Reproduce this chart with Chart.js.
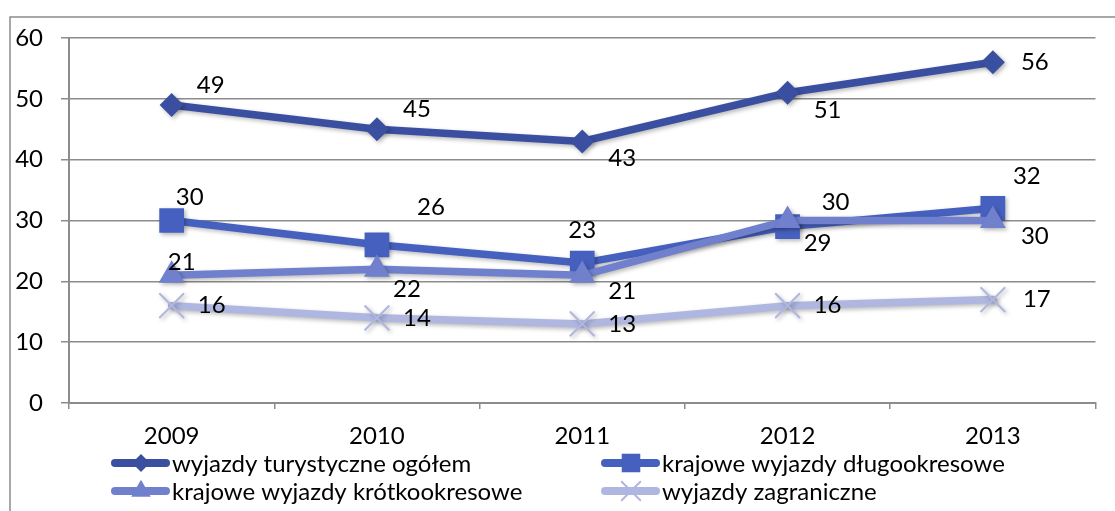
<!DOCTYPE html>
<html>
<head>
<meta charset="utf-8">
<script src="https://cdn.jsdelivr.net/npm/chart.js@4/dist/chart.umd.min.js"></script>
<style>
html,body{margin:0;padding:0;background:#fff;}
#wrap{width:1115px;height:511px;position:relative;}
</style>
</head>
<body>
<div id="wrap"><canvas id="c" width="1115" height="511"></canvas></div>
<script>
const categories = ['2009', '2010', '2011', '2012', '2013'];
const seriesNames = ['wyjazdy turystyczne ogółem', 'krajowe wyjazdy długookresowe', 'krajowe wyjazdy krótkookresowe', 'wyjazdy zagraniczne'];
const ogolem = [49, 45, 43, 51, 56];
const dlugookresowe = [30, 26, 23, 29, 32];
const krotkookresowe = [21, 22, 21, 30, 30];
const zagraniczne = [16, 14, 13, 16, 17];
const yTicks = [0, 10, 20, 30, 40, 50, 60];

const FONT = 'Lato, "Liberation Sans", sans-serif';
const FSIZE = 24;
const colors = ['#3B4FA0', '#4660BF', '#7080CC', '#AFB7E1'];
const styles = ['rectRot', 'rect', 'triangle', 'crossRot'];
const radii = [12, 17.5, 15, 17.5];

// label offsets (style: where each value label sits relative to its point)
const labelOffsets = [
  [[39,-20],[40,-20],[40,17],[40,18],[42,0]],
  [[18,-23],[54,-38],[0,-33],[30,17],[34,-32]],
  [[10,-13],[30,20],[40,16],[48,-18],[42,16]],
  [[40,0],[40,0],[40,0],[40,0],[44,0]]
];

const values = [ogolem, dlugookresowe, krotkookresowe, zagraniczne];

const datasets = values.map((v, i) => ({
  label: seriesNames[i],
  data: v,
  borderColor: colors[i],
  backgroundColor: colors[i],
  borderWidth: 7.5,
  pointStyle: styles[i],
  pointRadius: radii[i],
  pointHoverRadius: radii[i],
  pointBackgroundColor: colors[i],
  pointBorderColor: colors[i],
  pointBorderWidth: i === 3 ? 2 : 0,
  borderCapStyle: 'round',
  tension: 0,
  order: 4 - i
}));

const framePlugin = {
  id: 'frame',
  beforeDraw(chart) {
    const ctx = chart.ctx;
    ctx.save();
    ctx.fillStyle = '#fff';
    ctx.fillRect(0, 0, chart.width, chart.height);
    ctx.strokeStyle = '#8c8c8c';
    ctx.lineWidth = 1.5;
    ctx.strokeRect(10, 17, 1300, 1000);
    ctx.restore();
  }
};

const shadowPlugin = {
  id: 'shadow',
  beforeDatasetDraw(chart) {
    const ctx = chart.ctx;
    ctx.save();
    ctx.shadowColor = 'rgba(0,0,0,0.28)';
    ctx.shadowBlur = 4;
    ctx.shadowOffsetX = 2;
    ctx.shadowOffsetY = 2;
  },
  afterDatasetDraw(chart) {
    chart.ctx.restore();
  }
};

const labelPlugin = {
  id: 'valueLabels',
  afterDatasetsDraw(chart) {
    const ctx = chart.ctx;
    ctx.save();
    ctx.font = FSIZE + 'px ' + FONT;
    ctx.fillStyle = '#000';
    ctx.textAlign = 'center';
    ctx.textBaseline = 'middle';
    chart.data.datasets.forEach((ds, i) => {
      const meta = chart.getDatasetMeta(i);
      meta.data.forEach((pt, j) => {
        const off = labelOffsets[i][j];
        ctx.fillText(String(ds.data[j]), pt.x + off[0], pt.y + off[1]);
      });
    });
    ctx.restore();
  }
};

const legendPlugin = {
  id: 'customLegend',
  afterDraw(chart) {
    const ctx = chart.ctx;
    const colX = [111, 601];
    const rowY = [463, 491];
    ctx.save();
    chart.data.datasets.forEach((ds, i) => {
      const x = colX[i % 2];
      const y = rowY[Math.floor(i / 2)];
      ctx.strokeStyle = ds.borderColor;
      ctx.lineWidth = 8;
      ctx.lineCap = 'round';
      ctx.beginPath();
      ctx.moveTo(x + 4, y);
      ctx.lineTo(x + 55, y);
      ctx.stroke();
      ctx.fillStyle = ds.pointBackgroundColor;
      ctx.strokeStyle = ds.pointBorderColor;
      ctx.lineWidth = ds.pointBorderWidth || 0.01;
      Chart.helpers.drawPoint(ctx, {
        pointStyle: ds.pointStyle,
        radius: ds.pointRadius * 0.75,
        rotation: 0,
        borderWidth: ds.pointBorderWidth
      }, x + 30, y);
      ctx.font = FSIZE + 'px ' + FONT;
      ctx.fillStyle = '#000';
      ctx.textAlign = 'left';
      ctx.textBaseline = 'middle';
      ctx.fillText(ds.label, x + 61, y + 1);
    });
    ctx.restore();
  }
};

new Chart(document.getElementById('c'), {
  type: 'line',
  data: { labels: categories, datasets },
  options: {
    responsive: false,
    animation: false,
    layout: { padding: { left: 0, right: 15, top: 38, bottom: 0 } },
    plugins: {
      legend: { display: false },
      tooltip: { enabled: false }
    },
    scales: {
      x: {
        offset: true,
        grid: { display: true, drawOnChartArea: false, drawTicks: true, tickLength: 6, color: '#8c8c8c', lineWidth: 1.5, offset: true },
        border: { display: true, color: '#8c8c8c', width: 2 },
        ticks: { color: '#000', font: { family: FONT, size: FSIZE }, padding: 13, maxRotation: 0 },
        afterFit(scale) { scale.height = 108; }
      },
      y: {
        min: 0,
        max: 60,
        afterBuildTicks(scale) { scale.ticks = yTicks.map(v => ({ value: v })); },
        grid: { color: '#8c8c8c', lineWidth: 1.5, tickLength: 8 },
        border: { display: true, color: '#8c8c8c', width: 2 },
        ticks: { color: '#000', font: { family: FONT, size: FSIZE }, padding: 18 },
        afterFit(scale) { scale.width = 69; }
      }
    }
  },
  plugins: [framePlugin, shadowPlugin, labelPlugin, legendPlugin]
});
</script>
</body>
</html>
